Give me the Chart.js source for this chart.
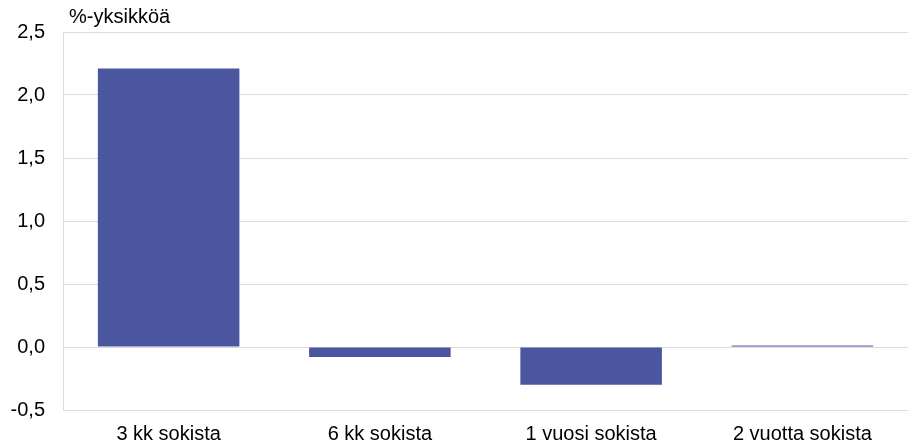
<!DOCTYPE html>
<html>
<head>
<meta charset="utf-8">
<script src="https://cdn.jsdelivr.net/npm/chart.js@4/dist/chart.umd.min.js"></script>
<style>
  html, body { margin: 0; padding: 0; background: #fff; }
  #wrap { width: 908px; height: 446px; }
</style>
</head>
<body>
<div id="wrap"><canvas id="myChart"></canvas></div>
<script>
const labels = ["3 kk sokista", "6 kk sokista", "1 vuosi sokista", "2 vuotta sokista"];
const values = [2.21, -0.08, -0.30, 0.012];
const unitLabel = "%-yksikköä";

const fontFamily = "'Liberation Sans', Arial, sans-serif";

// draws the unit text above the plot, left aligned to the chart area
const unitPlugin = {
  id: "unitLabel",
  afterDraw(chart) {
    const ctx = chart.ctx;
    ctx.save();
    ctx.font = "20px " + fontFamily;
    ctx.fillStyle = "#000";
    ctx.textBaseline = "middle";
    ctx.textAlign = "left";
    ctx.fillText(unitLabel, chart.chartArea.left + 6, 17);
    ctx.restore();
  },
};

const canvasArea = document.getElementById("myChart").getContext("2d");
const myChart = new Chart(canvasArea, {
  type: "bar",
  data: {
    labels,
    datasets: [
      {
        data: values,
        backgroundColor: "#4B56A0",
        borderWidth: 0,
        categoryPercentage: 0.67,
        barPercentage: 1.0,
      },
    ],
  },
  options: {
    responsive: true,
    maintainAspectRatio: false,
    animation: false,
    layout: { padding: { top: 32, right: 0, bottom: 0, left: 0 } },
    plugins: {
      legend: { display: false },
      tooltip: { enabled: false },
    },
    scales: {
      x: {
        afterFit(scale) {
          scale.height = 36;
        },
        grid: { display: false, drawTicks: false },
        border: { display: false },
        ticks: {
          color: "#000",
          padding: 12,
          font: { family: fontFamily, size: 20 },
        },
      },
      y: {
        min: -0.5,
        max: 2.5,
        afterFit(scale) {
          scale.width = 63;
        },
        grid: { color: "#dcdcdc", drawTicks: false },
        border: { display: true, color: "#dcdcdc" },
        ticks: {
          stepSize: 0.5,
          color: "#000",
          padding: 18,
          font: { family: fontFamily, size: 20 },
          callback: (v) => v.toFixed(1).replace(".", ","),
        },
      },
    },
  },
  plugins: [unitPlugin],
});
</script>
</body>
</html>
